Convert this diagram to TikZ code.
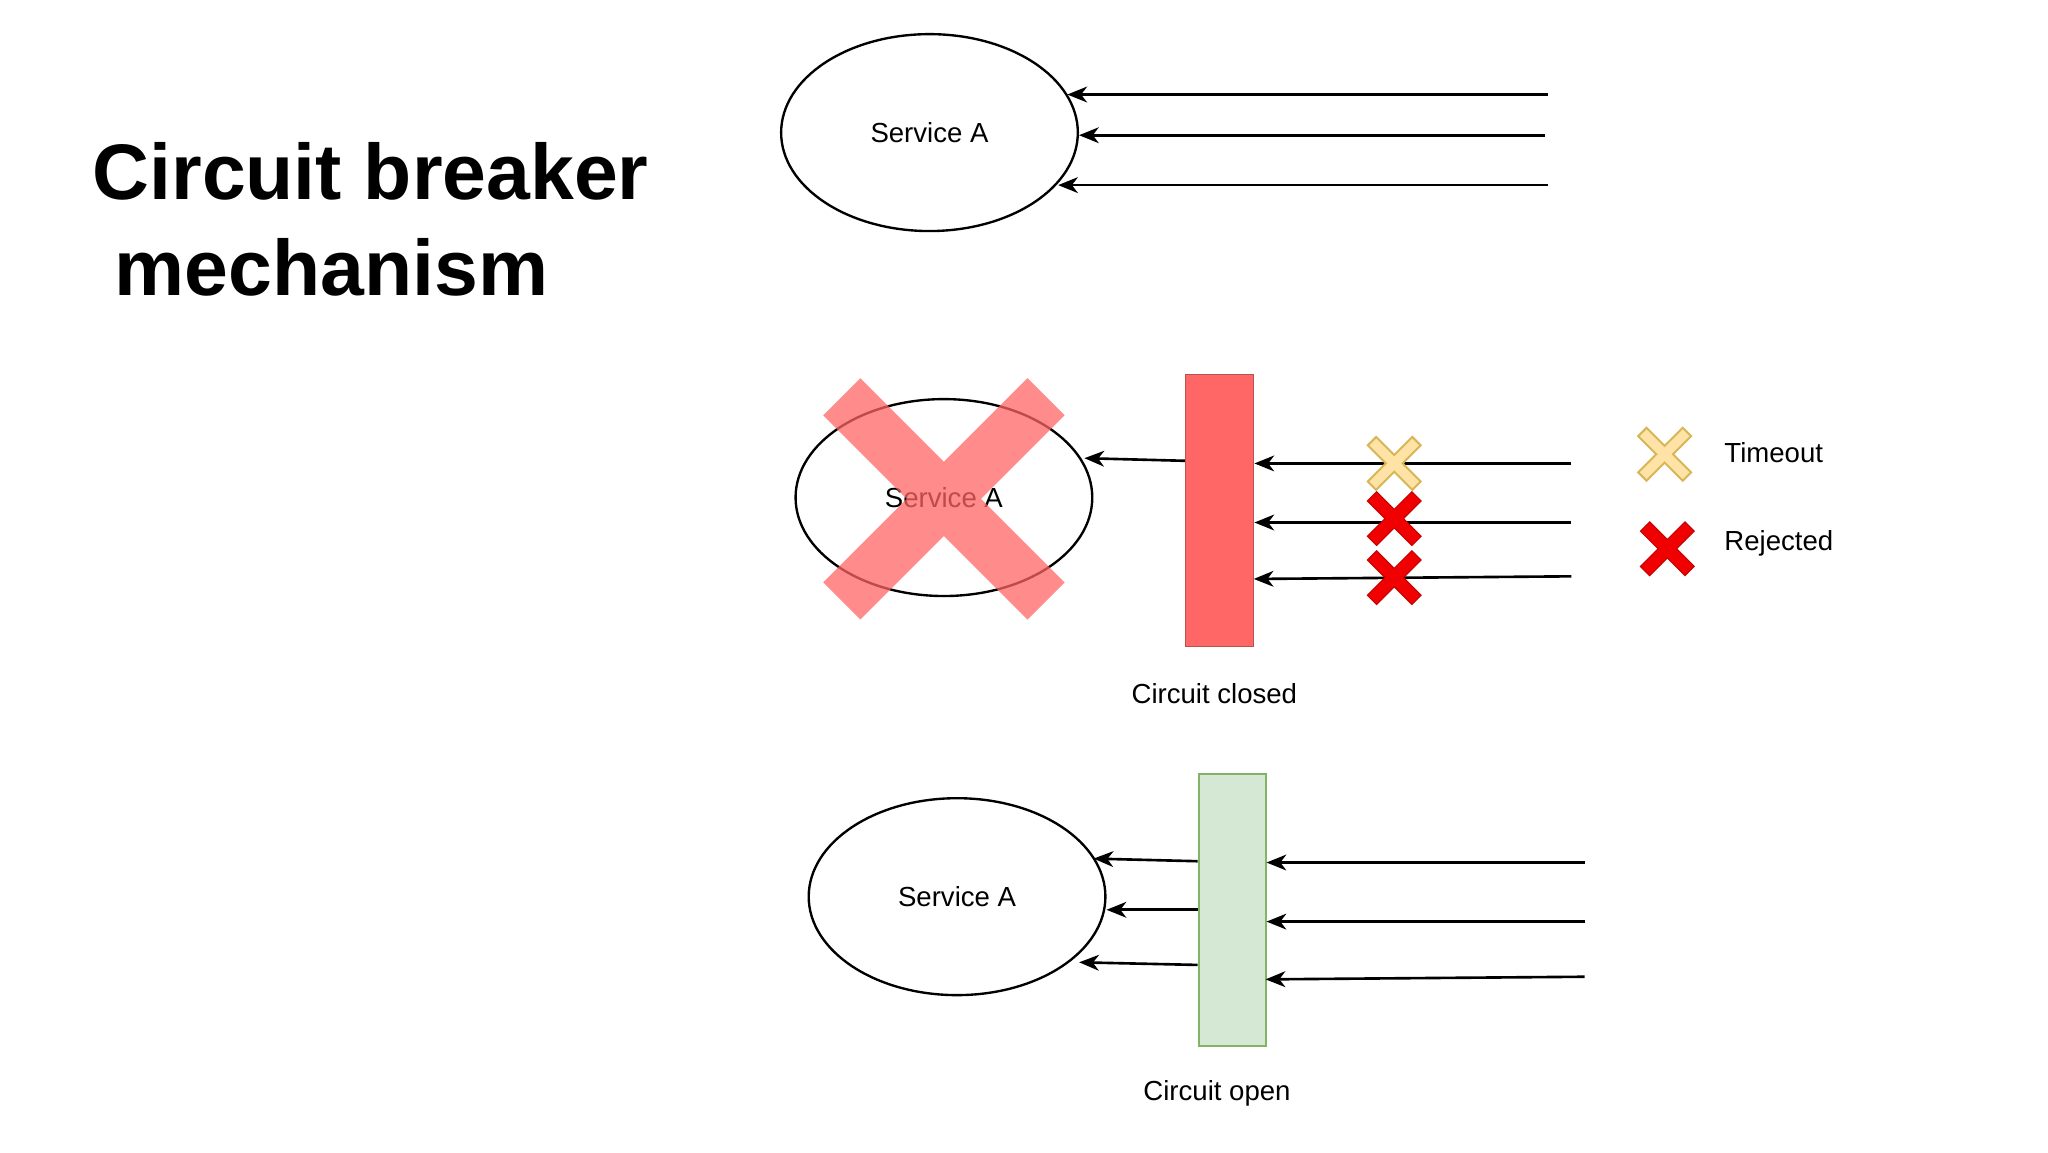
\documentclass[tikz,border=0pt]{standalone}
\usepackage{fontspec}
\setmainfont{Liberation Sans}
\usetikzlibrary{arrows.meta,shapes.geometric}
\newcommand\mycross[5]{% x,y,halflength,halfwidth,style
  \begin{scope}[shift={(#1,#2)},rotate=45]
  \path[#5] (#4,#4)--(#3,#4)--(#3,-#4)--(#4,-#4)--(#4,-#3)--(-#4,-#3)--(-#4,-#4)--(-#3,-#4)--(-#3,#4)--(-#4,#4)--(-#4,#3)--(#4,#3)--cycle;
  \end{scope}}
\begin{document}
\begin{tikzpicture}[x=1pt,y=-1pt,
  svc/.style={ellipse,draw,line width=1.8pt,minimum width=226pt,minimum height=150pt,font=\fontsize{21}{25}\selectfont},
  arr/.style={-{Stealth[length=15pt,width=12pt,inset=4.5pt]},line width=2pt},
  lbl/.style={font=\fontsize{21}{25}\selectfont},
  tmo/.style={fill={rgb,255:red,255;green,226;blue,166},draw={rgb,255:red,214;green,182;blue,86},line width=1.5pt},
  rej/.style={fill={rgb,255:red,240;green,0;blue,0},draw={rgb,255:red,200;green,0;blue,0},line width=0.8pt}]
\useasboundingbox (0,0) rectangle (1560,878);
\node[anchor=base west,font=\bfseries\fontsize{60}{70}\selectfont] (t1) at (67,152) {Circuit breaker};
\node[anchor=base west,font=\bfseries\fontsize{60}{70}\selectfont] (t2) at (84,225) {mechanism};
% top
\node[svc] (s1) at (708,101) {Service A};
\coordinate (a1) at (1179,72); \coordinate (a2) at (1177,103); \coordinate (a3) at (1179,141);
\draw[arr] (a1) -- (813,72);
\draw[arr] (a2) -- (s1.east |- a2);
\draw[arr] (a3) -- (806,141);
% middle
\node[svc] (s2) at (719,379) {Service A};
\mycross{719}{380}{110}{20}{fill={rgb,255:red,255;green,100;blue,100},fill opacity=0.75}
\node[draw={rgb,255:red,184;green,84;blue,80},fill={rgb,255:red,255;green,102;blue,102},minimum width=52pt,minimum height=207pt,inner sep=0,line width=1pt] (r1) at (929,389) {};
\draw[arr] (r1.west |- 0,351) -- (826,349);
\coordinate (b1) at (1197,353); \coordinate (b2) at (1197,398); \coordinate (b3) at (1197,439);
\draw[arr] (b1) -- (r1.east |- b1);
\draw[arr] (b2) -- (r1.east |- b2);
\draw[arr] (b3) -- (955,441);
\mycross{1062}{353}{24}{4.5}{tmo}
\mycross{1062}{395}{24}{5}{rej}
\mycross{1062}{440}{24}{5}{rej}
\mycross{1268}{346}{24}{4.5}{tmo}
\mycross{1270}{418}{24}{5}{rej}
\node[lbl,anchor=west] (lt) at (1310,345) {Timeout};
\node[lbl,anchor=west] (lr) at (1310,414) {Rejected};
\node[lbl] (cc) at (925,528) {Circuit closed};
% bottom
\node[svc] (s3) at (729,683) {Service A};
\node[draw={rgb,255:red,130;green,179;blue,102},fill={rgb,255:red,213;green,232;blue,212},minimum width=51pt,minimum height=207pt,inner sep=0,line width=1.5pt] (r2) at (938.5,693) {};
\draw[arr] (r2.west |- 0,656) -- (833,654);
\draw[arr] (r2.west |- 0,693) -- (s3.east |- 0,693);
\draw[arr] (r2.west |- 0,735) -- (822,733);
\coordinate (c1) at (1207,657); \coordinate (c2) at (1207,702); \coordinate (c3) at (1207,744);
\draw[arr] (c1) -- (r2.east |- c1);
\draw[arr] (c2) -- (r2.east |- c2);
\draw[arr] (c3) -- (964,746);
\node[lbl] (co) at (927,833) {Circuit open};
\end{tikzpicture}
\end{document}
